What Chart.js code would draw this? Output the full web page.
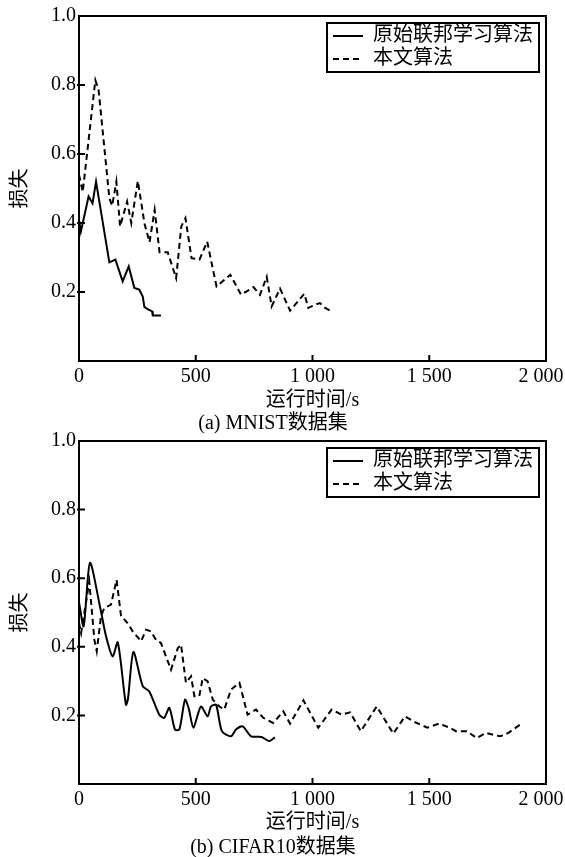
<!DOCTYPE html>
<html lang="zh">
<head>
<meta charset="utf-8">
<title>损失曲线</title>
<script src="https://cdn.jsdelivr.net/npm/chart.js@4.4.1/dist/chart.umd.min.js"></script>
<style>
  body { margin: 0; background: #fff; }
  #wrap { position: relative; width: 565px; height: 857px; }
  canvas { position: absolute; left: 0; }
  #chart-mnist { top: 0; }
  #chart-cifar { top: 425px; }
</style>
</head>
<body>
<div id="wrap">
  <canvas id="chart-mnist" width="565" height="436"></canvas>
  <canvas id="chart-cifar" width="565" height="432"></canvas>
</div>
<script>
// Series names and tick labels
const seriesNames = ['原始联邦学习算法', '本文算法'];
const xTickLabels = ['0', '500', '1 000', '1 500', '2 000\u2002'];
const yTickLabels = ['', '0.2', '0.4', '0.6', '0.8', '1.0'];

// (a) MNIST - original federated learning
const mnistFedTime = [0, 8, 41, 58, 73, 130, 156, 187, 213, 237, 258, 273, 280, 294, 313, 316, 351];
const mnistFedLoss = [0.41, 0.375, 0.477, 0.457, 0.52, 0.286, 0.294, 0.231, 0.274, 0.212, 0.207, 0.187, 0.157, 0.15, 0.144, 0.132, 0.132];

// (a) MNIST - proposed algorithm
const mnistOursTime = [0, 16, 70, 84, 130, 142, 160, 176, 206, 224, 252, 280, 302, 324, 345, 380, 416, 438, 456, 482, 516, 549, 589, 648, 694, 747, 775, 804, 825, 861, 904, 940, 965, 982, 1010, 1032, 1054, 1075];
const mnistOursLoss = [0.54, 0.49, 0.814, 0.785, 0.472, 0.45, 0.52, 0.39, 0.462, 0.40, 0.522, 0.40, 0.344, 0.438, 0.315, 0.315, 0.24, 0.39, 0.414, 0.298, 0.294, 0.346, 0.216, 0.25, 0.192, 0.214, 0.192, 0.244, 0.158, 0.21, 0.146, 0.175, 0.195, 0.154, 0.163, 0.168, 0.154, 0.146];

// (b) CIFAR10 - original federated learning
const cifarFedTime = [0, 20, 47, 92, 116, 144, 166, 201, 210, 233, 273, 301, 344, 365, 387, 411, 430, 454, 470, 490, 522, 551, 565, 587, 612, 651, 672, 701, 737, 782, 815, 839];
const cifarFedLoss = [0.53, 0.46, 0.645, 0.51, 0.43, 0.372, 0.413, 0.231, 0.25, 0.385, 0.285, 0.27, 0.202, 0.193, 0.222, 0.159, 0.159, 0.246, 0.22, 0.164, 0.226, 0.197, 0.226, 0.231, 0.154, 0.139, 0.159, 0.168, 0.139, 0.137, 0.125, 0.136];

// (b) CIFAR10 - proposed algorithm
const cifarOursTime = [0, 9, 44, 66, 76, 94, 108, 137, 161, 180, 208, 230, 266, 287, 308, 330, 351, 394, 423, 437, 458, 480, 494, 515, 530, 551, 573, 601, 622, 651, 687, 722, 758, 789, 832, 875, 904, 961, 1025, 1082, 1125, 1161, 1207, 1275, 1346, 1396, 1440, 1492, 1542, 1585, 1614, 1661, 1703, 1742, 1803, 1839, 1889];
const cifarOursLoss = [0.47, 0.44, 0.59, 0.42, 0.387, 0.488, 0.513, 0.523, 0.595, 0.49, 0.469, 0.445, 0.416, 0.45, 0.445, 0.42, 0.411, 0.333, 0.396, 0.406, 0.295, 0.314, 0.256, 0.256, 0.309, 0.299, 0.246, 0.226, 0.217, 0.275, 0.295, 0.202, 0.217, 0.193, 0.178, 0.212, 0.176, 0.244, 0.164, 0.217, 0.202, 0.209, 0.154, 0.226, 0.147, 0.197, 0.18, 0.164, 0.176, 0.165, 0.154, 0.154, 0.134, 0.149, 0.139, 0.149, 0.173];

Chart.defaults.font.family = "'Liberation Serif', 'Noto Sans CJK SC', serif";
Chart.defaults.font.size = 20;
Chart.defaults.color = '#000';

function toPoints(xs, ys) {
    return xs.map((x, i) => ({ x: x, y: ys[i] }));
}

// legend samples: short line with the dataset's own dash pattern
function legendLabels(chart) {
    const items = Chart.defaults.plugins.legend.labels.generateLabels(chart);
    items.forEach(item => {
        const ds = chart.data.datasets[item.datasetIndex];
        item.lineDash = ds.borderDash || [];
        item.lineWidth = ds.borderWidth;
        item.strokeStyle = ds.borderColor;
    });
    return items;
}

// frame around the plot, inward tick marks and the legend box
const framePlugin = {
    id: 'framePlugin',
    afterLayout(chart) {
        const lg = chart.legend;
        const a = chart.chartArea;
        if (!lg || !lg.columnSizes || !lg.columnSizes.length) return;
        const pad = lg.options.labels.padding;
        const w = lg.columnSizes[0].width + 12;
        const h = lg.columnSizes[0].height + pad;
        const left = a.right - 7 - w;
        const top = a.top + 7;
        lg.left = left + 3;
        lg.right = left + w;
        lg.width = w - 3;
        lg.top = top;
        lg.bottom = a.bottom;
        lg.height = a.bottom - top;
        chart.$legendBox = { left, top, w, h };
    },
    afterDraw(chart) {
        const { ctx, chartArea: a, scales: { x, y } } = chart;
        ctx.save();
        ctx.strokeStyle = '#000';
        ctx.lineWidth = 2;
        ctx.setLineDash([]);
        ctx.strokeRect(a.left, a.top, a.width, a.height);
        ctx.beginPath();
        x.ticks.forEach(t => {
            if (t.value > x.min && t.value < x.max) {
                const px = x.getPixelForValue(t.value);
                ctx.moveTo(px, a.bottom);
                ctx.lineTo(px, a.bottom - 6);
            }
        });
        y.ticks.forEach(t => {
            if (t.value > y.min && t.value < y.max) {
                const py = y.getPixelForValue(t.value);
                ctx.moveTo(a.left - 2, py);
                ctx.lineTo(a.left + 6, py);
            }
        });
        ctx.stroke();
        const b = chart.$legendBox;
        if (b) ctx.strokeRect(b.left, b.top, b.w, b.h);
        ctx.restore();
    }
};

function makeChart(canvasId, fedX, fedY, oursX, oursY, caption, pad, padBottom, xHeight, capPad, smooth) {
    const ctx = document.getElementById(canvasId).getContext('2d');
    return new Chart(ctx, {
        type: 'line',
        data: {
            datasets: [{
                label: seriesNames[0],
                data: toPoints(fedX, fedY),
                borderColor: '#000',
                backgroundColor: '#000',
                borderWidth: 2,
                pointRadius: 0,
                pointStyle: 'line',
                tension: smooth
            }, {
                label: seriesNames[1],
                data: toPoints(oursX, oursY),
                borderColor: '#000',
                backgroundColor: '#000',
                borderWidth: 2,
                borderDash: [6, 4],
                pointRadius: 0,
                pointStyle: 'line',
                tension: 0
            }]
        },
        options: {
            responsive: false,
            animation: false,
            devicePixelRatio: 1,
            layout: { padding: { top: pad, right: 19, bottom: padBottom, left: 0 } },
            plugins: {
                legend: {
                    position: 'chartArea',
                    align: 'start',
                    labels: {
                        usePointStyle: true,
                        pointStyle: 'line',
                        pointStyleWidth: 30,
                        boxWidth: 30,
                        boxHeight: 4,
                        padding: 3,
                        color: '#000',
                        generateLabels: legendLabels
                    }
                },
                title: {
                    display: true,
                    text: caption,
                    position: 'bottom',
                    padding: { top: capPad, bottom: 0 },
                    font: { weight: 'normal', size: 20 }
                },
                tooltip: { enabled: false }
            },
            scales: {
                x: {
                    type: 'linear',
                    min: 0,
                    max: 2000,
                    grid: { display: false, drawTicks: false },
                    border: { display: false },
                    ticks: {
                        stepSize: 500,
                        padding: 4,
                        maxRotation: 0,
                        callback: (v, i) => xTickLabels[i]
                    },
                    title: { display: true, text: '运行时间/s', padding: { top: 0, bottom: 0 } },
                    afterFit(scale) {
                        scale.height = xHeight;
                        scale.paddingLeft = 0;
                        scale.paddingRight = 0;
                    }
                },
                y: {
                    min: 0,
                    max: 1,
                    grid: { display: false, drawTicks: false },
                    border: { display: false },
                    ticks: {
                        stepSize: 0.2,
                        padding: 3,
                        callback: (v, i) => yTickLabels[i]
                    },
                    title: { display: true, text: '损失', padding: { top: 9, bottom: 0 } },
                    afterFit(scale) {
                        scale.width = 79;
                        scale.paddingTop = 0;
                        scale.paddingBottom = 0;
                    }
                }
            }
        },
        plugins: [framePlugin]
    });
}

makeChart('chart-mnist', mnistFedTime, mnistFedLoss, mnistOursTime, mnistOursLoss,
    '(a) MNIST数据集', 16, 0, 52, -1, 0);
makeChart('chart-cifar', cifarFedTime, cifarFedLoss, cifarOursTime, cifarOursLoss,
    '(b) CIFAR10数据集', 16, -3, 51, 1, 0.25);
</script>
</body>
</html>
